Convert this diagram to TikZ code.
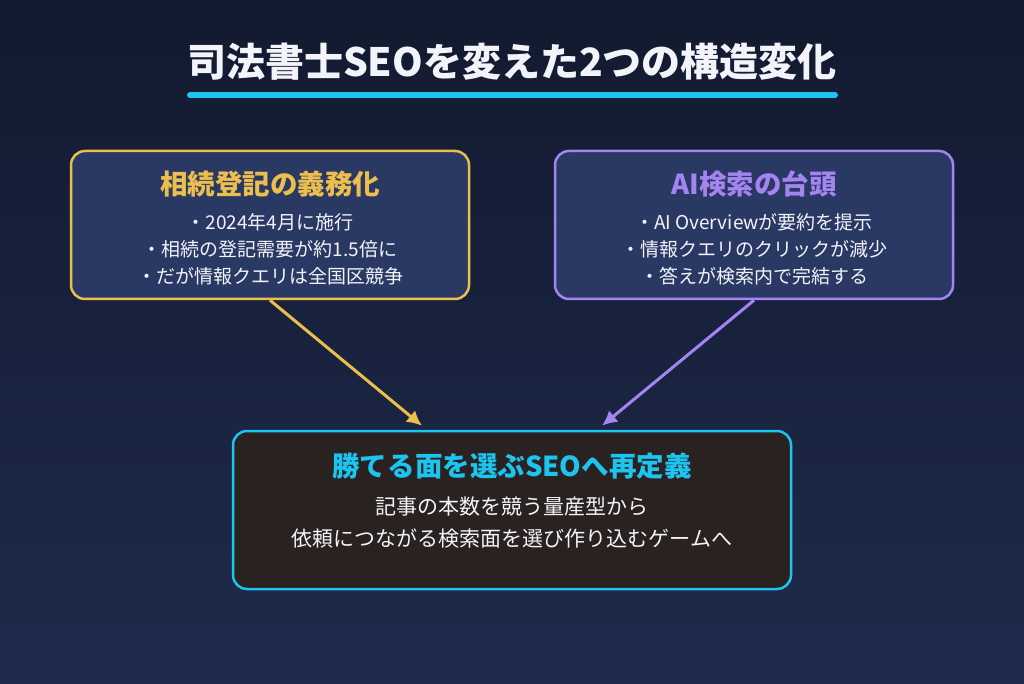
\documentclass[tikz,border=0pt]{standalone}
\usepackage{fontspec}
\setmainfont{Noto Sans CJK JP}
\usepackage{tikz}
\usetikzlibrary{calc,arrows.meta,positioning}
\definecolor{bgtop}{HTML}{121A2F}
\definecolor{bgbot}{HTML}{1F2B4D}
\definecolor{boxblue}{HTML}{2A3964}
\definecolor{boxbrown}{HTML}{2A2220}
\definecolor{gold}{HTML}{ECBE4E}
\definecolor{lilac}{HTML}{A484F0}
\definecolor{skycyan}{HTML}{1CC4F0}
\definecolor{paper}{HTML}{F2F4FA}
\tikzset{
	causebox/.style={draw=#1,line width=2.5pt,rounded corners=14pt,fill=boxblue,minimum width=398pt,minimum height=148pt},
	headtext/.style={text=#1,font=\bfseries\fontsize{27.5}{32}\selectfont},
	bullettext/.style={text=paper,font=\fontsize{19}{23}\selectfont},
	flowarrow/.style={draw=#1,line width=3pt,-{Latex[length=15pt,width=15pt]}}
}

\begin{document}
\begin{tikzpicture}[x=1pt,y=1pt]
	%background
	\shade[top color=bgtop,bottom color=bgbot] (0,0) rectangle (1024,683);
	\useasboundingbox (0,0) rectangle (1024,683);
	
	%title
	\node[text=paper,font=\bfseries\fontsize{39}{44}\selectfont] (title) at (512,621) {司法書士SEOを変えた2つの構造変化};
	\draw[skycyan,line width=6pt,line cap=round] (190,588)--(835,588);	%underline
	
	%cause boxes
	\node[causebox=gold] (law) at (270,458) {};
	\node[causebox=lilac] (ai) at (754,458) {};
	
	%result box
	\node[draw=skycyan,line width=2.5pt,rounded corners=14pt,fill=boxbrown,minimum width=558pt,minimum height=158pt] (game) at (512,173) {};
	
	%texts: left
	\node[headtext=gold] (lawhead) at (270,499) {相続登記の義務化};
	\node[bullettext] (lawa) at (270,461) {・2024年4月に施行};
	\node[bullettext] (lawb) at (270,434) {・相続の登記需要が約1.5倍に};
	\node[bullettext] (lawc) at (270,407) {・だが情報クエリは全国区競争};
	
	%texts: right
	\node[headtext=lilac] (aihead) at (754,499) {AI検索の台頭};
	\node[bullettext] (aia) at (754,461) {・AI Overviewが要約を提示};
	\node[bullettext] (aib) at (754,434) {・情報クエリのクリックが減少};
	\node[bullettext] (aic) at (754,407) {・答えが検索内で完結する};
	
	%texts: bottom
	\node[headtext=skycyan] (gamehead) at (512,217) {勝てる面を選ぶSEOへ再定義};
	\node[bullettext,font=\fontsize{21}{25}\selectfont] (gamea) at (512,176) {記事の本数を競う量産型から};
	\node[bullettext,font=\fontsize{21}{25}\selectfont] (gameb) at (512,144) {依頼につながる検索面を選び作り込むゲームへ};
	
	%arrows
	\coordinate (lawend) at ($(game.north)+(-90,4)$);
	\coordinate (aiend) at ($(game.north)+(90,4)$);
	\draw[flowarrow=gold] (law.south)--(lawend);
	\draw[flowarrow=lilac] (ai.south)--(aiend);
\end{tikzpicture}
\end{document}
